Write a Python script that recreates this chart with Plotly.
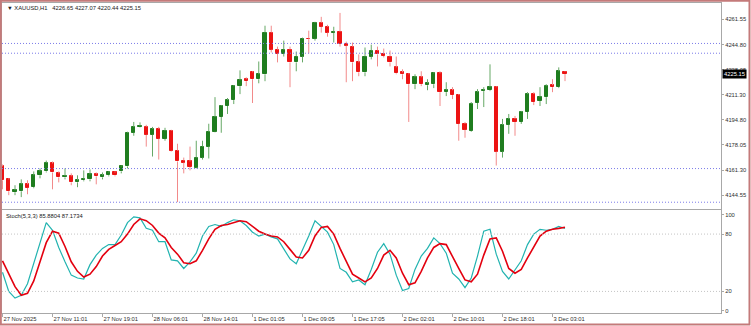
import plotly.graph_objects as go

# ---------------- data ----------------
symbol_text = "\u25BC XAUUSD,H1\u00a0\u00a0 4226.65 4227.07 4220.44 4225.15"
stoch_text = "Stoch(5,3,3) 85.8804 87.1734"

opens = [4163.7, 4155.1, 4146.6, 4147.2, 4151.8, 4149.9, 4157.8, 4160.4, 4165.7, 4159.1,
         4156.4, 4157.1, 4153.1, 4154.5, 4155.1, 4158.4, 4156.4, 4157.8, 4159.7, 4160.4,
         4163.7, 4186.1, 4190.0, 4190.0, 4184.8, 4188.7, 4182.1, 4187.4, 4174.2, 4167.6,
         4167.0, 4163.0, 4169.6, 4176.9, 4186.8, 4196.6, 4203.9, 4207.8, 4217.1, 4221.7,
         4226.3, 4221.7, 4225.0, 4252.7, 4241.4, 4238.8, 4241.4, 4232.9, 4236.8, 4248.7,
         4248.7, 4259.2, 4256.6, 4252.7, 4253.3, 4245.4, 4243.4, 4232.9, 4226.3, 4236.8,
         4240.8, 4238.8, 4236.8, 4229.6, 4226.3, 4225.0, 4218.4, 4223.0, 4217.7, 4218.4,
         4225.6, 4213.1, 4214.4, 4211.1, 4192.0, 4187.4, 4205.9, 4213.8, 4214.4, 4216.4,
         4173.6, 4191.4, 4195.3, 4193.3, 4199.9, 4211.8, 4207.2, 4209.8, 4217.7, 4216.4,
         4226.65]
highs = [4165.0, 4155.8, 4151.2, 4155.1, 4154.5, 4160.4, 4162.4, 4167.6, 4167.0, 4160.4,
         4162.4, 4159.1, 4157.8, 4161.1, 4161.7, 4159.7, 4159.7, 4160.4, 4160.4, 4164.3,
         4186.8, 4193.3, 4193.0, 4191.4, 4190.0, 4190.0, 4189.4, 4188.1, 4178.8, 4169.6,
         4176.9, 4180.8, 4180.8, 4192.1, 4209.8, 4204.5, 4209.2, 4217.7, 4227.6, 4223.0,
         4227.0, 4233.5, 4257.3, 4257.3, 4243.4, 4247.4, 4243.4, 4240.1, 4249.4, 4254.0,
         4259.9, 4263.2, 4257.9, 4256.6, 4265.8, 4246.7, 4246.1, 4238.2, 4242.8, 4244.7,
         4243.4, 4242.1, 4240.8, 4236.8, 4228.3, 4225.6, 4225.0, 4227.0, 4221.7, 4226.3,
         4227.0, 4219.7, 4216.4, 4211.8, 4193.3, 4206.5, 4215.1, 4216.4, 4231.6, 4217.1,
         4195.3, 4198.6, 4197.3, 4200.6, 4213.1, 4213.1, 4216.4, 4218.4, 4221.7, 4229.6,
         4227.07]
lows = [4148.5, 4144.6, 4144.6, 4143.3, 4145.2, 4149.2, 4155.8, 4159.7, 4148.5, 4153.1,
        4155.1, 4151.2, 4149.9, 4153.8, 4153.8, 4151.8, 4155.1, 4157.1, 4157.1, 4159.1,
        4162.4, 4184.1, 4189.7, 4176.9, 4170.3, 4168.3, 4180.8, 4173.6, 4140.0, 4159.1,
        4161.1, 4162.4, 4168.3, 4169.0, 4186.4, 4186.1, 4198.6, 4205.2, 4211.8, 4217.1,
        4205.9, 4219.0, 4220.4, 4239.5, 4232.9, 4236.8, 4216.4, 4227.0, 4232.9, 4238.8,
        4247.4, 4252.7, 4250.0, 4246.1, 4243.4, 4219.7, 4220.4, 4223.7, 4223.7, 4234.9,
        4230.2, 4236.2, 4230.2, 4225.0, 4221.7, 4193.3, 4215.1, 4217.1, 4214.4, 4215.8,
        4203.9, 4210.5, 4208.5, 4180.8, 4182.8, 4186.8, 4201.9, 4203.2, 4213.8, 4164.3,
        4169.6, 4185.4, 4184.1, 4192.0, 4195.3, 4204.5, 4203.9, 4205.2, 4213.1, 4215.8,
        4220.44]
closes = [4154.5, 4147.2, 4147.9, 4151.8, 4149.5, 4157.8, 4160.4, 4166.0, 4159.7, 4156.4,
          4157.4, 4153.1, 4154.5, 4155.5, 4158.4, 4157.1, 4157.8, 4159.7, 4157.8, 4163.7,
          4186.1, 4190.0, 4190.7, 4184.8, 4188.7, 4182.1, 4187.4, 4174.2, 4167.0, 4166.3,
          4163.4, 4169.6, 4176.9, 4186.8, 4196.6, 4203.9, 4207.8, 4217.1, 4221.0, 4220.4,
          4221.7, 4225.0, 4252.7, 4241.4, 4238.8, 4241.4, 4232.9, 4236.8, 4248.7, 4248.4,
          4259.2, 4256.6, 4252.7, 4253.3, 4245.4, 4244.1, 4232.9, 4226.3, 4236.8, 4240.8,
          4238.2, 4237.2, 4232.9, 4225.6, 4225.0, 4218.4, 4223.0, 4218.4, 4219.0, 4225.6,
          4213.1, 4214.4, 4211.1, 4192.0, 4188.1, 4205.2, 4213.1, 4214.4, 4216.4, 4173.6,
          4191.4, 4195.3, 4193.3, 4199.9, 4211.8, 4206.5, 4209.8, 4217.1, 4216.4, 4227.0,
          4225.15]

stoch_main = [40, 20, 13, 16, 28, 50, 72, 92, 84, 66,
              51, 37, 34, 33, 48, 58, 65, 69, 69, 79,
              92, 98, 97, 86, 84, 72, 72, 53, 52, 44,
              51, 60, 78, 88, 90, 88, 92, 95, 94, 89,
              82, 78, 80, 77, 75, 64, 54, 49, 63, 78,
              94, 88, 82, 69, 44, 40, 30, 32, 27, 43,
              61, 70, 59, 37, 21, 23, 43, 57, 65, 76,
              70, 60, 39, 33, 24, 34, 57, 83, 85, 59,
              41, 33, 43, 52, 69, 80, 85, 84, 85, 88,
              85.8804]
stoch_signal = [52, 38, 25, 16, 18, 31, 50, 71, 83, 81,
                67, 51, 41, 35, 38, 46, 57, 64, 68, 72,
                80, 90, 96, 94, 89, 81, 76, 66, 59, 50,
                49, 52, 63, 75, 85, 89, 90, 92, 94, 93,
                88, 83, 80, 78, 77, 72, 64, 56, 55, 63,
                78, 87, 88, 80, 65, 51, 38, 34, 30, 34,
                44, 58, 63, 55, 39, 27, 29, 41, 55, 66,
                70, 69, 56, 44, 32, 30, 38, 58, 75, 76,
                62, 44, 39, 43, 55, 67, 78, 83, 85, 86,
                87.1734]

tick_bars = [0, 8, 16, 24, 32, 40, 48, 56, 64, 72, 80, 88]
tick_labels = ["27 Nov 2025", "27 Nov 11:01", "27 Nov 19:01", "28 Nov 06:01",
               "28 Nov 14:01", "1 Dec 01:05", "1 Dec 09:05", "1 Dec 17:05",
               "2 Dec 02:01", "2 Dec 10:01", "2 Dec 18:01", "3 Dec 03:01"]
price_ticks = [4261.55, 4244.80, 4228.05, 4211.30, 4194.80, 4178.05, 4161.30, 4144.55]
level_prices = [4245.5, 4239.0, 4162.3, 4139.9]
stoch_ticks = [100, 80, 20, 0]
stoch_levels = [80, 20]
last_price = 4225.15

# ---------------- styling ----------------
FONT = "Liberation Sans, Arial, sans-serif"
FS = 5.8
TXT = "#303030"
FRAME = "#a8a8a8"
UP_BODY, DN_BODY = "#1f7d1f", "#ec1313"
UP_WICK, DN_WICK = "#66a866", "#f28a8a"

W, H = 751, 326
ML, MR, MT, MB = 2, 30, 3, 13
PW, PH = W - ML - MR, H - MT - MB
top_bottom_px = 209   # page y of top panel bottom
bot_top_px = 210      # page y of bottom panel top
top_dom = [(H - MB - top_bottom_px) / PH, 1]
bot_dom = [0, (H - MB - bot_top_px) / PH]

def px_x(page_x):
    return (page_x - ML) / PW

def px_y(page_y):
    return (H - MB - page_y) / PH

n = len(closes)
idx = list(range(n))
up = [c >= o for o, c in zip(opens, closes)]

fig = go.Figure()

# wicks (upper and lower parts, so they do not cross the bodies)
for flag, col in ((True, UP_WICK), (False, DN_WICK)):
    xs, ys = [], []
    for i in idx:
        if up[i] != flag:
            continue
        top_b = max(opens[i], closes[i])
        bot_b = min(opens[i], closes[i])
        xs += [i, i, None, i, i, None]
        ys += [top_b, highs[i], None, lows[i], bot_b, None]
    fig.add_trace(go.Scatter(x=xs, y=ys, mode="lines", line=dict(color=col, width=1),
                             xaxis="x2", yaxis="y", hoverinfo="skip", showlegend=False))

# bodies
body_base = [min(o, c) for o, c in zip(opens, closes)]
body_h = [abs(c - o) for o, c in zip(opens, closes)]
body_col = [UP_BODY if u else DN_BODY for u in up]
fig.add_trace(go.Bar(x=idx, y=body_h, base=body_base, width=0.5,
                     marker=dict(color=body_col, line=dict(color=body_col, width=1)),
                     xaxis="x2", yaxis="y", showlegend=False))

# stochastic
fig.add_trace(go.Scatter(x=idx, y=stoch_main, mode="lines",
                         line=dict(color="#22b3b0", width=1.2),
                         xaxis="x", yaxis="y2", showlegend=False))
fig.add_trace(go.Scatter(x=idx, y=stoch_signal, mode="lines",
                         line=dict(color="#e3000f", width=1.6),
                         xaxis="x", yaxis="y2", showlegend=False))

shapes = []
for lv in level_prices:
    shapes.append(dict(type="line", xref="paper", yref="y", x0=0, x1=1, y0=lv, y1=lv,
                       line=dict(color="#7b7be8", width=1, dash="1px,2px")))
for lv in stoch_levels:
    shapes.append(dict(type="line", xref="paper", yref="y2", x0=0, x1=1, y0=lv, y1=lv,
                       line=dict(color="#c4c4c4", width=1, dash="1px,2px")))
# outer window border
shapes.append(dict(type="rect", xref="paper", yref="paper",
                   x0=px_x(0.8), x1=px_x(W - 1.5), y0=px_y(H - 1.5), y1=px_y(0.8),
                   line=dict(color="#c47a7a", width=2), layer="above"))

x_range = [-0.08, -0.08 + PW / 6.25]
top_range = [4135.4, 4272.4]
bot_range = [-2.6, 105.2]

axis_common = dict(showline=True, linecolor=FRAME, linewidth=1, mirror=True,
                   showgrid=False, zeroline=False)

fig.update_layout(
    width=W, height=H,
    margin=dict(l=ML, r=MR, t=MT, b=MB, pad=0),
    paper_bgcolor="white", plot_bgcolor="white",
    barmode="overlay", bargap=0,
    font=dict(family=FONT, size=FS, color=TXT),
    shapes=shapes,
    xaxis=dict(domain=[0, 1], anchor="y2", range=x_range, tickmode="array",
               tickvals=tick_bars, ticktext=tick_labels, ticks="outside", ticklen=3,
               tickcolor=FRAME, ticklabelposition="outside right",
               tickfont=dict(family=FONT, size=FS, color=TXT), **axis_common),
    xaxis2=dict(domain=[0, 1], anchor="y", range=x_range, matches="x",
                showticklabels=False, ticks="", **axis_common),
    yaxis=dict(domain=top_dom, anchor="x2", side="right", range=top_range,
               tickmode="array", tickvals=price_ticks,
               ticktext=[f"{v:.2f}" for v in price_ticks],
               ticks="outside", ticklen=2, tickcolor=FRAME,
               tickfont=dict(family=FONT, size=FS, color=TXT), **axis_common),
    yaxis2=dict(domain=bot_dom, anchor="x", side="right", range=bot_range,
                tickmode="array", tickvals=stoch_ticks,
                ticktext=[str(v) for v in stoch_ticks],
                ticks="outside", ticklen=2, tickcolor=FRAME,
                tickfont=dict(family=FONT, size=FS, color=TXT), **axis_common),
    annotations=[
        dict(text=symbol_text, xref="paper", yref="paper", x=px_x(5), y=px_y(8.5),
             xanchor="left", yanchor="middle", showarrow=False,
             font=dict(family=FONT, size=FS, color="#202020")),
        dict(text=stoch_text, xref="paper", yref="paper", x=px_x(4), y=px_y(216),
             xanchor="left", yanchor="middle", showarrow=False,
             font=dict(family=FONT, size=FS, color="#202020")),
        dict(text=f"{last_price:.2f}", xref="paper", yref="y", x=px_x(722), y=last_price,
             xanchor="left", yanchor="middle", showarrow=False, bgcolor="#000000",
             borderpad=1, font=dict(family=FONT, size=FS, color="#ffffff")),
    ],
)

fig.write_html("out.html")
